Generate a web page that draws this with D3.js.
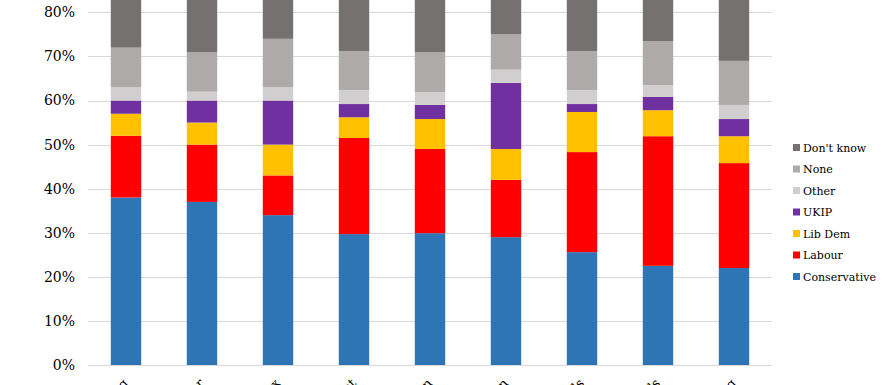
<!DOCTYPE html>
<html>
<head>
<meta charset="utf-8">
<script src="https://cdn.jsdelivr.net/npm/d3@7"></script>
<style>
  body { margin: 0; background: #fff; overflow: hidden; }
  svg { display: block; }
  svg text { font-family: "DejaVu Serif", "Liberation Serif", "Times New Roman", serif; }
</style>
</head>
<body>
<svg id="chart" width="884" height="385"></svg>
<script>
var categories = ["Reading", "Worcester", "Essex", "Kent", "Luton", "Clacton", "Tunbridge Wells", "Leeds", "Barking"];
var parties = ["Conservative", "Labour", "Lib Dem", "UKIP", "Other", "None", "Don't know"];
var colours = ["#2E75B6", "#FF0000", "#FFC000", "#7030A0", "#D0CECE", "#AEAAAA", "#767171"];

// share of each answer, per category (percent)
var conservative = [38, 37, 34, 29.7, 29.9, 29, 25.6, 22.5, 22];
var labour       = [14, 13, 9, 21.8, 19.1, 13, 22.7, 29.4, 23.8];
var libDem       = [5, 5, 7, 4.7, 6.8, 7, 9.1, 5.9, 6.1];
var ukip         = [3, 5, 10, 3, 3.2, 15, 1.8, 3, 3.9];
var other        = [3, 2, 3, 3.2, 2.9, 3, 3.2, 2.7, 3.2];
var none         = [9, 9, 11, 8.8, 9.1, 8, 8.8, 10, 10];
var dontKnow     = [28, 29, 26, 28.8, 29, 25, 28.8, 26.5, 31];

var yTicks = [0, 10, 20, 30, 40, 50, 60, 70, 80];

var series = [conservative, labour, libDem, ukip, other, none, dontKnow];
var rows = categories.map(function(c, i){
  var row = {name: c};
  parties.forEach(function(p, j){ row[p] = series[j][i]; });
  return row;
});

var svg = d3.select("#chart");
var plotLeft = 88, plotRight = 772;
var zeroY = 365;
var pxPerPct = 4.408;

var x = d3.scaleBand()
  .domain(categories)
  .range([plotLeft, plotRight])
  .paddingInner(0.6)
  .paddingOuter(0.3);

var y = d3.scaleLinear()
  .domain([0, 100])
  .range([zeroY, zeroY - 100 * pxPerPct]);

drawGrid();
drawBars();
drawLabels();
drawLegend();

function drawGrid(){
  svg.append("g")
    .selectAll("line")
    .data(yTicks)
    .join("line")
      .attr("x1", plotLeft)
      .attr("x2", plotRight)
      .attr("y1", function(d){ return Math.round(y(d)) + 0.5; })
      .attr("y2", function(d){ return Math.round(y(d)) + 0.5; })
      .attr("stroke", "#d9d9d9")
      .attr("stroke-width", 1);

  svg.append("g")
    .selectAll("text")
    .data(yTicks)
    .join("text")
      .attr("x", 75)
      .attr("y", function(d){ return y(d); })
      .attr("dy", "0.35em")
      .attr("text-anchor", "end")
      .attr("font-size", "14px")
      .attr("fill", "#000")
      .text(function(d){ return d + "%"; });
}

function drawBars(){
  var stacked = d3.stack().keys(parties)(rows);

  svg.append("g")
    .selectAll("g")
    .data(stacked)
    .join("g")
      .attr("fill", function(d, i){ return colours[i]; })
    .selectAll("rect")
    .data(function(d){ return d; })
    .join("rect")
      .attr("x", function(d){ return x(d.data.name); })
      .attr("width", x.bandwidth())
      .attr("y", function(d){ return y(d[1]); })
      .attr("height", function(d){ return y(d[0]) - y(d[1]); });
}

function drawLabels(){
  svg.append("g")
    .selectAll("text")
    .data(categories)
    .join("text")
      .attr("transform", function(d){
        return "translate(" + (x(d) + x.bandwidth() / 2 + 3) + "," + 384 + ") rotate(-45)";
      })
      .attr("text-anchor", "end")
      .attr("font-size", "13px")
      .attr("fill", "#000")
      .text(function(d){ return d; });
}

function drawLegend(){
  var order = parties.slice().reverse();
  var legend = svg.append("g")
    .selectAll("g")
    .data(order)
    .join("g")
      .attr("transform", function(d, i){ return "translate(793," + (148 + i * 21.5) + ")"; });

  legend.append("rect")
    .attr("x", 0)
    .attr("y", -4)
    .attr("width", 7)
    .attr("height", 7)
    .attr("fill", function(d){ return colours[parties.indexOf(d)]; });

  legend.append("text")
    .attr("x", 10)
    .attr("y", 0)
    .attr("dy", "0.35em")
    .attr("font-size", "11px")
    .attr("fill", "#000")
    .text(function(d){ return d; });
}
</script>
</body>
</html>
